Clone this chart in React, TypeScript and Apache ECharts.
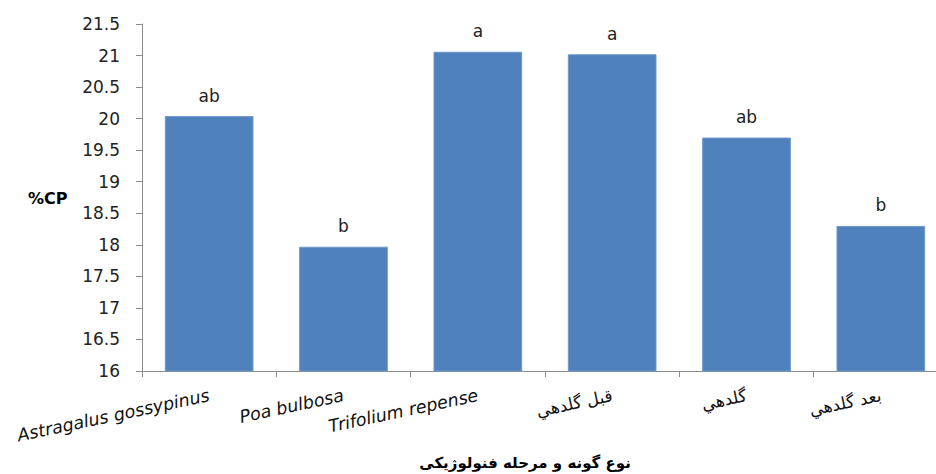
import React, { useEffect, useRef } from "react";
import * as echarts from "echarts";

const categories = ["Astragalus gossypinus", "Poa bulbosa", "Trifolium repense", "قبل گلدهي", "گلدهي", "بعد گلدهي"];
const italicFlags = [true, true, true, false, false, false];
const cpValues = [20.04, 17.97, 21.06, 21.02, 19.70, 18.30];
const groupLetters = ["ab", "b", "a", "a", "ab", "b"];
const yTicks = { min: 16, max: 21.5, interval: 0.5 };
const yTitle = "%CP";
const xTitle = "نوع گونه و مرحله فنولوژیکی";

export default function App() {
  const ref = useRef<HTMLDivElement>(null);
  useEffect(() => {
    if (!ref.current) return;
    const chart = echarts.init(ref.current, null, { renderer: "svg" });
    const font = "DejaVu Sans";
    chart.setOption({
      animation: false,
      grid: { left: 142, top: 24, width: 806, height: 347, containLabel: false },
      xAxis: {
        type: "category",
        data: categories,
        axisLine: { lineStyle: { color: "#8c8c8c", width: 1 } },
        axisTick: { show: true, alignWithLabel: false, length: 6, lineStyle: { color: "#8c8c8c" } },
        axisLabel: {
          interval: 0,
          rotate: 12,
          margin: 24,
          color: "#111",
          fontFamily: font,
          fontSize: 17,
          formatter: (v: string) => {
            const i = categories.indexOf(v);
            return italicFlags[i] ? "{it|" + v + "}" : "{fa|" + v + "}";
          },
          rich: {
            it: { fontStyle: "italic", fontFamily: font, fontSize: 17.5, color: "#111" },
            fa: { fontFamily: font, fontSize: 17, color: "#111" },
          },
        },
      },
      yAxis: {
        type: "value",
        min: yTicks.min,
        max: yTicks.max,
        interval: yTicks.interval,
        axisLine: { show: true, lineStyle: { color: "#8c8c8c", width: 1 } },
        axisTick: { show: true, length: 6, lineStyle: { color: "#8c8c8c" } },
        splitLine: { show: false },
        axisLabel: { color: "#222", fontFamily: font, fontSize: 17, margin: 22 },
      },
      series: [
        {
          type: "bar",
          data: cpValues,
          barCategoryGap: "34%",
          itemStyle: { color: "#4F81BD", borderColor: "#6d96c8", borderWidth: 1 },
          label: {
            show: true,
            position: "top",
            distance: 12,
            color: "#222",
            fontFamily: font,
            fontSize: 17,
            formatter: (p: any) => groupLetters[p.dataIndex],
          },
        },
      ],
      graphic: [
        {
          type: "text",
          left: 28,
          top: 190,
          style: { text: yTitle, fontFamily: font, fontWeight: "bold", fontSize: 16, fill: "#000" },
        },
        {
          type: "text",
          x: 525,
          y: 463,
          style: {
            text: xTitle,
            fontFamily: font,
            fontWeight: "bold",
            fontSize: 15,
            fill: "#000",
            align: "center",
            verticalAlign: "middle",
          },
        },
      ],
    });
    return () => chart.dispose();
  }, []);
  return (
    <div
      ref={ref}
      style={{ position: "fixed", left: 0, top: 0, width: 960, height: 474, background: "#fff" }}
    />
  );
}
